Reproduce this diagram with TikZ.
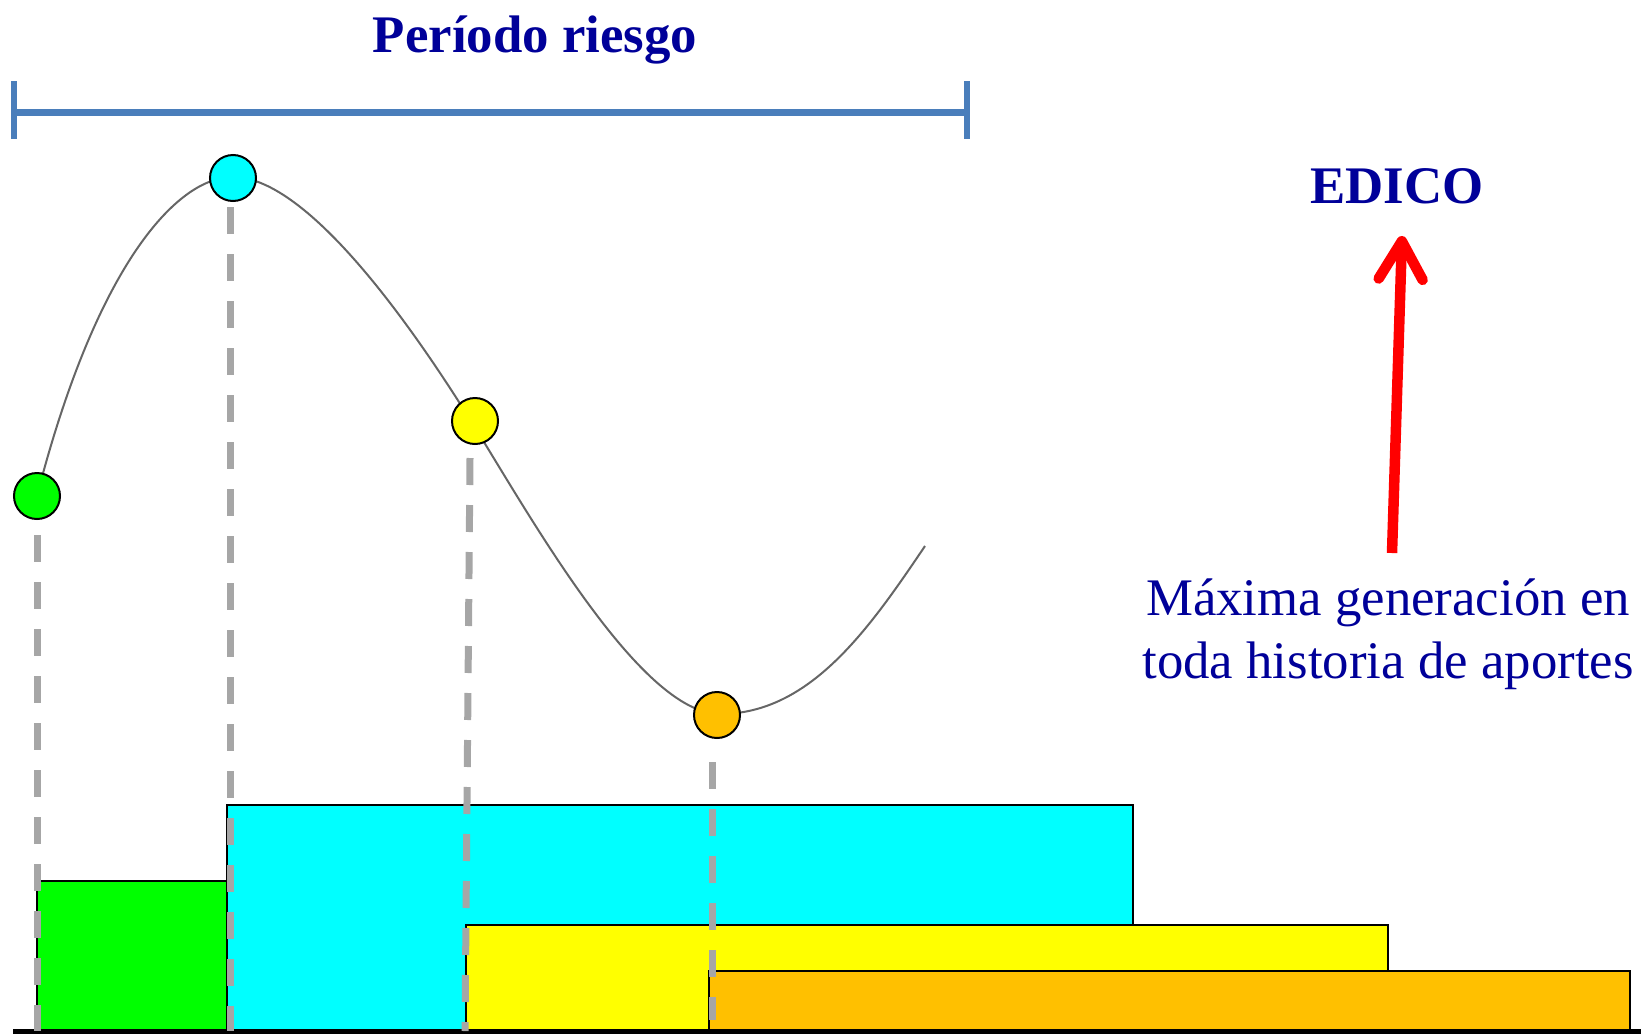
\documentclass[tikz,border=0pt]{standalone}
\usepackage{fontspec}
\setmainfont{Liberation Serif}
\usetikzlibrary{arrows.meta}
\definecolor{navy}{RGB}{0,0,153}
\definecolor{barblue}{HTML}{4A7EBB}
\definecolor{dashgray}{HTML}{A6A6A6}
\definecolor{curvegray}{HTML}{666666}
\definecolor{greenfill}{RGB}{0,255,0}
\definecolor{cyanfill}{RGB}{0,255,255}
\definecolor{yellowfill}{RGB}{255,255,0}
\definecolor{orangefill}{HTML}{FFC000}
\definecolor{arrowred}{RGB}{255,0,0}
\begin{document}
\begin{tikzpicture}[x=0.5pt,y=-0.5pt,
  dot/.style={circle,draw=black,line width=1pt,minimum size=23pt,inner sep=0pt},
  blockbox/.style={draw=black,line width=1.2pt},
  guide/.style={dashgray,line width=3.5pt,dash pattern=on 13.5pt off 10pt},
  rangebar/.style={barblue,line width=3.5pt},
  bigtitle/.style={font=\fontsize{26.4}{31.5}\selectfont\bfseries,text=navy,inner sep=0pt,anchor=base},
  bodytext/.style={font=\fontsize{26.4}{31.5}\selectfont,text=navy,inner sep=0pt,anchor=base,align=center},
  redarrow/.style={arrowred,line width=5.25pt,-{Straight Barb[length=19pt,width=22pt,round]}}
]
\useasboundingbox (0,0) rectangle (1641,1033);

% blocks
\draw[blockbox,fill=cyanfill] (227,1031) rectangle (1133,805);
\draw[blockbox,fill=greenfill] (37,1031) rectangle (227,881);
\draw[blockbox,fill=yellowfill] (466,1031) rectangle (1388,925);
\draw[blockbox,fill=orangefill] (709,1031) rectangle (1630,971);
\draw[black,line width=2.5pt] (13,1031) -- (1641,1031);

% range bar
\coordinate (rl) at (14,112);
\coordinate (rr) at (967,112);
\draw[rangebar] (rl) -- (rr);
\draw[rangebar,line width=3pt] (14,81) -- (14,139);
\draw[rangebar,line width=3pt] (967,81) -- (967,139);
\node[bigtitle] (titulo) at (535,52) {Período riesgo};

% dashed guides
\draw[guide] (37,535) -- (37,1031);
\draw[guide] (230,207) -- (230,1031);
\draw[guide] (470,458) -- (465,1031);
\draw[guide] (712,762) -- (712,1020);

% curve
\draw[curvegray,line width=1pt] (37,496)
  .. controls (95,270) and (175,177) .. (233,177)
  .. controls (310,177) and (418,336) .. (471,421)
  .. controls (529,514) and (640,714) .. (720,714)
  .. controls (810,714) and (869,629) .. (925,546);

% dots
\node[dot,fill=greenfill] (g) at (37,496) {};
\node[dot,fill=cyanfill] (c) at (233,178) {};
\node[dot,fill=yellowfill] (y) at (475,421) {};
\node[dot,fill=orangefill] (o) at (717,715) {};

% right side
\node[bigtitle] (edico) at (1397,203) {EDICO};
\node[bodytext] (maxgen) at (1388,678) {Máxima generación en\\toda historia de aportes};
\coordinate (atail) at (1392,553);
\coordinate (ahead) at (1402,236);
\draw[redarrow] (atail) -- (ahead);
\end{tikzpicture}
\end{document}
